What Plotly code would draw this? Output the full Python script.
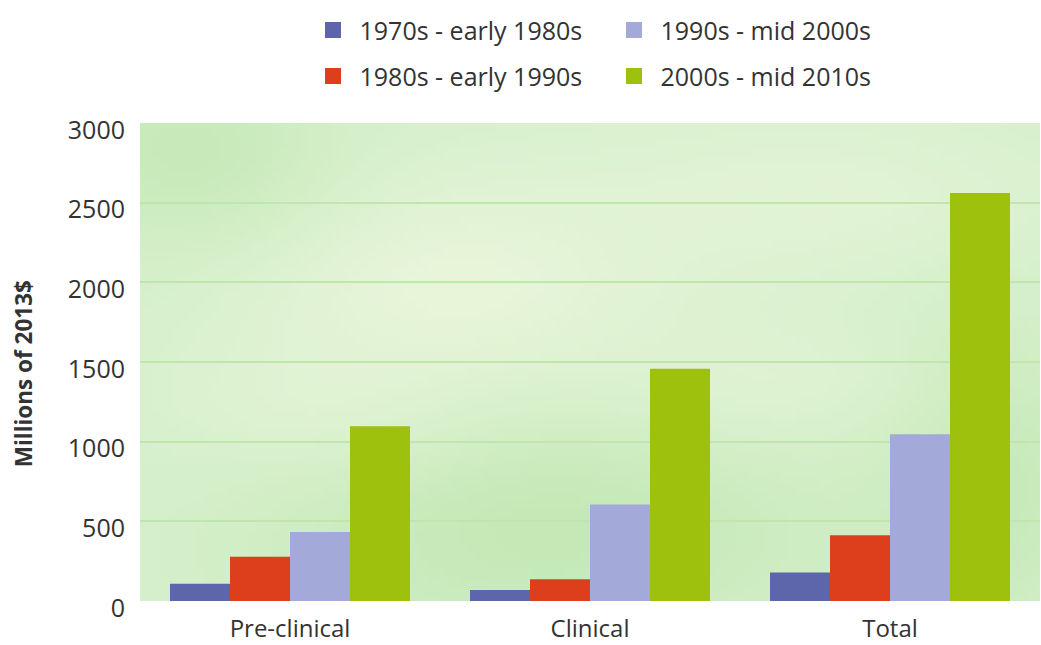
import base64, struct, zlib
import numpy as np
import plotly.graph_objects as go

categories = ["Pre-clinical", "Clinical", "Total"]
series_names = ["1970s - early 1980s", "1980s - early 1990s", "1990s - mid 2000s", "2000s - mid 2010s"]
v_1970s = [108, 69, 179]
v_1980s = [277, 136, 412]
v_1990s = [433, 606, 1046]
v_2000s = [1096, 1458, 2560]
y_ticks = [0, 500, 1000, 1500, 2000, 2500, 3000]

colors = ["#5d66aa", "#dd3f1c", "#a3aad9", "#9dc10c"]
series_values = [v_1970s, v_1980s, v_1990s, v_2000s]
legend_rank = [1, 3, 2, 4]
legend_id = ["legend", "legend2", "legend", "legend2"]


def make_bg_png(w=120, h=64):
    xx = np.linspace(0, 1, w)[None, :].repeat(h, 0)
    yy = np.linspace(0, 1, h)[:, None].repeat(w, 1)
    base = np.array([0.84, 0.94, 0.80])
    light = np.array([0.93, 0.97, 0.87])
    dark = np.array([0.72, 0.90, 0.66])
    img = np.ones((h, w, 3)) * base

    def blob(cx, cy, sx, sy, col, a):
        nonlocal img
        g = np.exp(-(((xx - cx) / sx) ** 2 + ((yy - cy) / sy) ** 2))[..., None] * a
        img = img * (1 - g) + col * g

    blob(0.35, 0.35, 0.25, 0.25, light, 0.8)
    blob(0.75, 0.15, 0.3, 0.2, light, 0.5)
    blob(0.05, 0.05, 0.15, 0.2, dark, 0.5)
    blob(0.45, 0.85, 0.3, 0.25, dark, 0.6)
    blob(0.95, 0.75, 0.12, 0.3, dark, 0.5)
    blob(0.2, 0.6, 0.2, 0.15, light, 0.4)
    blob(0.7, 0.55, 0.2, 0.15, light, 0.4)
    arr = (np.clip(img, 0, 1) * 255).astype(np.uint8)
    raw = b"".join(b"\x00" + arr[i].tobytes() for i in range(h))

    def chunk(t, d):
        c = struct.pack(">I", len(d)) + t + d
        return c + struct.pack(">I", zlib.crc32(t + d) & 0xffffffff)

    png = b"\x89PNG\r\n\x1a\n" + chunk(b"IHDR", struct.pack(">IIBBBBB", w, h, 8, 2, 0, 0, 0)) \
        + chunk(b"IDAT", zlib.compress(raw, 9)) + chunk(b"IEND", b"")
    return "data:image/png;base64," + base64.b64encode(png).decode()


fig = go.Figure()
for name, vals, col in zip(series_names, series_values, colors):
    fig.add_trace(go.Bar(x=categories, y=vals, name=name, marker=dict(color=col, line=dict(width=0)),
                         showlegend=False))
# legend entries (large square swatches)
for name, col, rk, lg in zip(series_names, colors, legend_rank, legend_id):
    fig.add_trace(go.Scatter(x=[None], y=[None], mode="markers", name=name, legendrank=rk, legend=lg,
                             marker=dict(symbol="square", size=30, color=col)))

font_family = "Open Sans, Noto Sans, sans-serif"
legend_common = dict(orientation="h", xanchor="left", yanchor="middle", entrywidth=243,
                     entrywidthmode="pixels", font=dict(size=25, color="#333333", family=font_family),
                     bgcolor="rgba(0,0,0,0)", itemwidth=43, tracegroupgap=0)

fig.update_layout(
    width=1041, height=645,
    margin=dict(l=140, r=1, t=123, b=42),
    paper_bgcolor="white",
    plot_bgcolor="#d8f0c8",
    barmode="group", bargap=0.2, bargroupgap=0,
    font=dict(family=font_family, color="#333333"),
    legend=dict(x=0.185, y=1.194, **legend_common),
    legend2=dict(x=0.185, y=1.098, **legend_common),
    images=[dict(source=make_bg_png(), xref="paper", yref="paper", x=0, y=1, sizex=1, sizey=1,
                 sizing="stretch", layer="below", xanchor="left", yanchor="top")],
    xaxis=dict(showgrid=False, showline=False, ticks="", tickfont=dict(size=24, color="#333333"),
               ticklabelstandoff=11, range=[-0.5, 2.5]),
    yaxis=dict(range=[0, 3000], tickvals=y_ticks, showgrid=True, gridcolor="#bfe6ac", gridwidth=2,
               zeroline=False, showline=False, ticks="", tickfont=dict(size=25, color="#333333"),
               ticklabelstandoff=14, ticklabelshift=7,
               title=dict(text="<b>Millions of 2013$</b>&nbsp;&nbsp;&nbsp;&nbsp;",
                          font=dict(size=22.5, color="#333333"), standoff=28)),
)

fig.write_html("out.html", config={"displayModeBar": False},
               post_script="document.body.style.margin='0';document.body.style.overflow='hidden';")
